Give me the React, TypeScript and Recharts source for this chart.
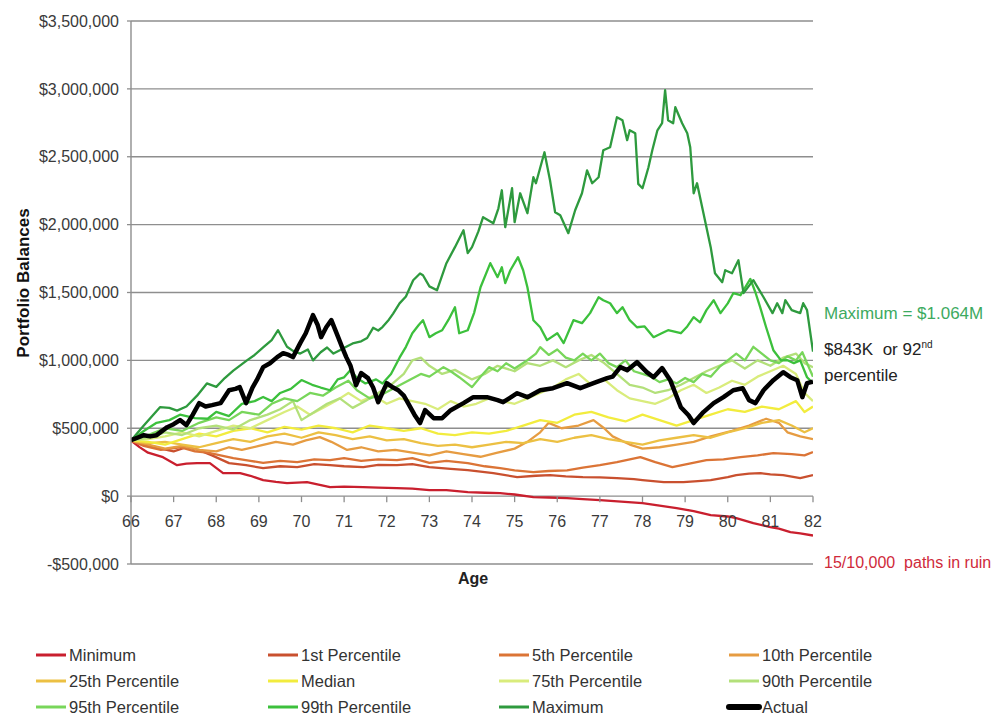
import React from 'react';
import { LineChart, Line, XAxis, YAxis, CartesianGrid } from 'recharts';

// ---------- data (values in $ thousands, [age, value]) ----------
const ageTicks = [66, 67, 68, 69, 70, 71, 72, 73, 74, 75, 76, 77, 78, 79, 80, 81, 82];
const balanceTicks = [-500000, 0, 500000, 1000000, 1500000, 2000000, 2500000, 3000000, 3500000];

const minimum: [number, number][] = [
  [66, 410], [66.2, 361], [66.4, 320], [66.75, 287], [67.08, 228], [67.3, 240], [67.55, 243], [67.85, 243],
  [68.16, 169], [68.56, 169], [68.8, 150], [69.1, 118], [69.4, 105], [69.66, 96], [70.13, 103], [70.4, 85],
  [70.67, 66], [71.0, 70], [71.45, 66], [71.8, 62], [72.24, 59], [72.6, 55], [73.0, 44], [73.4, 44],
  [73.9, 29], [74.3, 25], [74.66, 22], [75.0, 12], [75.44, -7], [75.8, -10], [76.23, -15], [76.6, -22],
  [77.0, -29], [77.5, -40], [78.0, -52], [78.4, -70], [78.8, -88], [79.2, -110], [79.6, -140], [80.0, -150],
  [80.2, -162], [80.6, -199], [81.0, -228], [81.2, -240], [81.47, -265], [81.7, -275], [82.0, -290],
];

const p1: [number, number][] = [
  [66, 410], [66.3, 380], [66.7, 350], [67.0, 330], [67.3, 360], [67.6, 339], [67.9, 300], [68.3, 243],
  [68.7, 228], [69.1, 206], [69.5, 220], [69.9, 214], [70.3, 235], [70.67, 228], [71.0, 220], [71.45, 214],
  [71.8, 230], [72.24, 228], [72.6, 235], [73.0, 214], [73.5, 200], [73.9, 191], [74.5, 169], [75.06, 140],
  [75.5, 150], [75.83, 155], [76.2, 145], [76.6, 140], [77.0, 138], [77.4, 133], [77.8, 125], [78.0, 118],
  [78.5, 103], [78.96, 103], [79.3, 110], [79.6, 118], [80.0, 140], [80.2, 155], [80.5, 165], [80.77, 169],
  [81.0, 160], [81.3, 155], [81.7, 133], [82.0, 155],
];

const p5: [number, number][] = [
  [66, 410], [66.3, 370], [66.7, 340], [67.15, 360], [67.5, 330], [67.8, 320], [68.1, 300], [68.4, 280],
  [68.8, 260], [69.1, 245], [69.5, 260], [69.9, 250], [70.3, 270], [70.67, 265], [71.0, 280], [71.4, 260],
  [71.8, 270], [72.24, 265], [72.6, 280], [73.0, 245], [73.4, 260], [73.9, 243], [74.3, 220], [74.66, 206],
  [75.0, 190], [75.44, 177], [75.8, 185], [76.23, 190], [76.6, 210], [77.0, 228], [77.4, 250], [77.95, 287],
  [78.3, 250], [78.7, 214], [79.1, 240], [79.5, 265], [79.9, 270], [80.3, 287], [80.7, 300], [81.07, 317],
  [81.5, 310], [81.8, 300], [82.0, 324],
];

const p10: [number, number][] = [
  [66, 410], [66.4, 380], [66.8, 350], [67.2, 370], [67.6, 340], [68.0, 330], [68.3, 360], [68.6, 340],
  [69.0, 370], [69.4, 400], [69.8, 380], [70.1, 410], [70.43, 435], [70.7, 400], [71.07, 340], [71.4, 360],
  [71.8, 330], [72.2, 340], [72.6, 320], [73.0, 300], [73.4, 330], [73.8, 310], [74.2, 290], [74.6, 320],
  [75.0, 350], [75.3, 400], [75.6, 470], [75.8, 540], [76.1, 500], [76.5, 520], [76.85, 560], [77.1, 500],
  [77.3, 440], [77.7, 380], [78.0, 350], [78.4, 360], [78.8, 380], [79.2, 400], [79.6, 440], [80.1, 480],
  [80.5, 520], [80.9, 570], [81.2, 540], [81.4, 470], [81.7, 440], [82.0, 420],
];

const p25: [number, number][] = [
  [66, 410], [66.4, 390], [66.8, 400], [67.2, 380], [67.6, 360], [68.0, 390], [68.4, 420], [68.8, 400],
  [69.2, 440], [69.6, 460], [70.0, 430], [70.4, 470], [70.8, 450], [71.2, 420], [71.6, 440], [72.0, 410],
  [72.4, 420], [72.8, 390], [73.2, 370], [73.6, 380], [74.0, 360], [74.4, 380], [74.8, 400], [75.2, 390],
  [75.6, 420], [76.0, 400], [76.4, 430], [76.8, 450], [77.2, 420], [77.6, 400], [78.0, 380], [78.4, 410],
  [78.8, 430], [79.2, 450], [79.6, 430], [80.0, 470], [80.4, 500], [80.8, 540], [81.2, 560], [81.5, 520],
  [81.8, 470], [82.0, 500],
];

const median: [number, number][] = [
  [66, 410], [66.4, 400], [66.8, 380], [67.2, 420], [67.6, 460], [68.0, 440], [68.4, 480], [68.8, 500],
  [69.2, 470], [69.6, 510], [70.0, 490], [70.4, 520], [70.8, 500], [71.2, 470], [71.6, 520], [72.0, 500],
  [72.4, 480], [72.8, 500], [73.2, 460], [73.6, 450], [74.0, 470], [74.4, 460], [74.8, 480], [75.2, 520],
  [75.6, 560], [76.0, 540], [76.4, 600], [76.8, 620], [77.2, 580], [77.6, 550], [78.0, 600], [78.4, 560],
  [78.8, 520], [79.2, 560], [79.6, 600], [80.0, 640], [80.4, 620], [80.8, 660], [81.2, 640], [81.6, 700],
  [81.8, 620], [82.0, 660],
];

const p75: [number, number][] = [
  [66, 410], [66.4, 420], [66.8, 440], [67.2, 470], [67.6, 440], [68.0, 480], [68.4, 520], [68.8, 500],
  [69.2, 560], [69.6, 620], [69.9, 660], [70.2, 600], [70.5, 650], [70.8, 700], [71.1, 760], [71.4, 700],
  [71.7, 740], [72.0, 680], [72.3, 720], [72.6, 700], [72.9, 680], [73.2, 640], [73.5, 700], [73.8, 660],
  [74.1, 680], [74.4, 720], [74.7, 700], [75.0, 680], [75.3, 720], [75.6, 760], [75.9, 800], [76.2, 860],
  [76.5, 900], [76.8, 820], [77.1, 860], [77.4, 780], [77.7, 720], [78.0, 700], [78.3, 680], [78.6, 720],
  [78.9, 780], [79.2, 820], [79.5, 760], [79.8, 800], [80.1, 850], [80.4, 820], [80.7, 880], [81.0, 920],
  [81.3, 960], [81.6, 900], [81.8, 760], [82.0, 700],
];

const p90: [number, number][] = [
  [66, 410], [66.4, 430], [66.8, 470], [67.2, 450], [67.6, 500], [68.0, 520], [68.4, 490], [68.8, 560],
  [69.2, 600], [69.5, 640], [69.8, 700], [70.0, 560], [70.3, 620], [70.6, 680], [70.9, 720], [71.2, 650],
  [71.5, 700], [71.8, 760], [72.1, 820], [72.4, 900], [72.6, 1000], [72.8, 1020], [73.0, 960], [73.3, 900],
  [73.6, 930], [74.0, 860], [74.3, 900], [74.6, 960], [75.0, 920], [75.3, 980], [75.6, 960], [75.9, 1000],
  [76.2, 950], [76.5, 1000], [76.8, 1040], [77.1, 980], [77.4, 900], [77.7, 820], [78.0, 800], [78.3, 760],
  [78.6, 780], [78.9, 820], [79.2, 870], [79.5, 920], [79.8, 960], [80.1, 1000], [80.4, 940], [80.7, 1000],
  [81.0, 960], [81.3, 1020], [81.6, 1050], [81.8, 980], [82.0, 950],
];

const p95: [number, number][] = [
  [66, 410], [66.4, 450], [66.8, 500], [67.2, 480], [67.6, 540], [68.0, 580], [68.3, 560], [68.6, 620],
  [69.0, 600], [69.3, 680], [69.6, 720], [69.9, 700], [70.2, 760], [70.5, 740], [70.8, 800], [71.1, 850],
  [71.3, 780], [71.6, 720], [71.9, 750], [72.2, 800], [72.5, 850], [72.8, 900], [73.0, 880], [73.33, 950],
  [73.5, 920], [73.7, 876], [74.0, 803], [74.2, 880], [74.4, 950], [74.6, 920], [74.8, 979], [75.0, 940],
  [75.3, 1001], [75.5, 1050], [75.6, 1097], [75.8, 1040], [76.0, 1080], [76.2, 1020], [76.4, 1000], [76.6, 1050],
  [76.8, 1000], [77.0, 1050], [77.2, 980], [77.4, 950], [77.6, 1000], [77.8, 920], [78.0, 900], [78.2, 880],
  [78.4, 840], [78.6, 860], [78.8, 830], [79.0, 870], [79.2, 840], [79.4, 900], [79.6, 880], [79.8, 950],
  [80.0, 1000], [80.2, 1050], [80.4, 1000], [80.6, 1100], [80.8, 1050], [81.0, 1000], [81.2, 980], [81.4, 1030],
  [81.6, 1000], [81.75, 1060], [81.9, 950], [82.0, 880],
];

const p99: [number, number][] = [
  [66, 410], [66.3, 480], [66.6, 540], [66.9, 560], [67.15, 600], [67.5, 575], [67.8, 570], [68.0, 620],
  [68.3, 590], [68.6, 680], [68.9, 700], [69.1, 730], [69.3, 700], [69.5, 760], [69.75, 790], [70.0, 855],
  [70.25, 820], [70.45, 800], [70.67, 780], [70.85, 860], [71.0, 875], [71.15, 930], [71.3, 870], [71.5, 830],
  [71.75, 860], [71.9, 830], [72.1, 900], [72.3, 1020], [72.45, 1100], [72.6, 1200], [72.75, 1260], [72.85, 1296],
  [73.0, 1171], [73.15, 1200], [73.3, 1222], [73.45, 1300], [73.6, 1392], [73.7, 1200], [73.9, 1222], [74.05, 1350],
  [74.2, 1539], [74.43, 1716], [74.6, 1613], [74.7, 1686], [74.78, 1569], [74.9, 1664], [75.08, 1760], [75.2, 1664],
  [75.3, 1539], [75.44, 1296], [75.6, 1244], [75.76, 1149], [76.0, 1200], [76.15, 1127], [76.38, 1296], [76.58, 1274],
  [76.77, 1348], [76.97, 1465], [77.08, 1443], [77.24, 1421], [77.4, 1348], [77.53, 1392], [77.7, 1296], [77.87, 1244],
  [78.05, 1250], [78.26, 1171], [78.45, 1200], [78.6, 1222], [78.9, 1200], [79.05, 1250], [79.2, 1318], [79.35, 1280],
  [79.5, 1370], [79.67, 1443], [79.83, 1348], [80.0, 1420], [80.13, 1495], [80.3, 1480], [80.53, 1600], [80.65, 1500],
  [80.76, 1392], [80.9, 1244], [81.07, 1075], [81.25, 1000], [81.4, 1001], [81.55, 980], [81.7, 1000], [81.86, 876],
  [82.0, 832],
];

const maximum: [number, number][] = [
  [66, 410], [66.3, 520], [66.68, 655], [66.9, 650], [67.08, 630], [67.3, 660], [67.55, 740], [67.78, 830],
  [68.0, 805], [68.2, 870], [68.4, 925], [68.72, 1000], [68.9, 1040], [69.1, 1095], [69.3, 1150], [69.45, 1222],
  [69.66, 1100], [69.8, 1070], [69.97, 1050], [70.15, 1080], [70.27, 1000], [70.45, 1060], [70.6, 1095], [70.75, 1050],
  [70.9, 1075], [71.05, 1100], [71.2, 1125], [71.4, 1140], [71.54, 1165], [71.68, 1240], [71.8, 1220], [71.9, 1245],
  [72.05, 1300], [72.15, 1345], [72.3, 1420], [72.45, 1470], [72.62, 1590], [72.78, 1640], [72.85, 1627], [73.0, 1545],
  [73.18, 1517], [73.4, 1716], [73.6, 1834], [73.8, 1959], [73.9, 1790], [74.0, 1834], [74.15, 1950], [74.26, 2055],
  [74.5, 2010], [74.62, 2120], [74.7, 2253], [74.78, 1981], [74.94, 2268], [75.0, 2018], [75.13, 2231], [75.3, 2084],
  [75.44, 2349], [75.5, 2305], [75.7, 2533], [75.83, 2327], [75.95, 2091], [76.07, 2069], [76.26, 1937], [76.42, 2106],
  [76.58, 2231], [76.7, 2400], [76.82, 2305], [76.97, 2349], [77.08, 2548], [77.24, 2570], [77.4, 2791], [77.53, 2769],
  [77.64, 2622], [77.7, 2695], [77.83, 2673], [77.9, 2300], [78.0, 2268], [78.14, 2423], [78.23, 2548], [78.35, 2695],
  [78.46, 2747], [78.53, 2990], [78.6, 2769], [78.72, 2747], [78.77, 2865], [78.93, 2747], [79.05, 2673], [79.12, 2570],
  [79.2, 2231], [79.28, 2305], [79.43, 2084], [79.6, 1834], [79.7, 1642], [79.87, 1576], [79.94, 1664], [80.1, 1642],
  [80.25, 1738], [80.37, 1495], [80.6, 1591], [80.84, 1465], [81.05, 1348], [81.16, 1421], [81.28, 1348], [81.35, 1443],
  [81.5, 1370], [81.7, 1348], [81.77, 1421], [81.86, 1370], [82.0, 1064],
];

const actual: [number, number][] = [
  [66.0, 412], [66.15, 430], [66.3, 449], [66.45, 440], [66.6, 449], [66.85, 508], [67.0, 530], [67.15, 560],
  [67.3, 523], [67.45, 600], [67.6, 685], [67.75, 660], [67.9, 670], [68.1, 685], [68.3, 780], [68.45, 790],
  [68.55, 803], [68.7, 685], [68.85, 800], [68.95, 854], [69.1, 950], [69.26, 979], [69.43, 1024], [69.57, 1053],
  [69.7, 1040], [69.8, 1024], [69.97, 1127], [70.1, 1200], [70.27, 1333], [70.38, 1260], [70.46, 1171], [70.58, 1244],
  [70.7, 1296], [70.86, 1171], [70.95, 1100], [71.05, 1024], [71.15, 960], [71.28, 817], [71.4, 906], [71.56, 869],
  [71.68, 800], [71.8, 692], [72.0, 832], [72.15, 800], [72.27, 780], [72.4, 740], [72.5, 685], [72.65, 600],
  [72.78, 538], [72.9, 633], [73.1, 574], [73.3, 574], [73.5, 633], [73.8, 685], [74.03, 729], [74.35, 729],
  [74.6, 707], [74.73, 692], [75.06, 758], [75.3, 729], [75.6, 780], [75.9, 795], [76.23, 832], [76.54, 795],
  [76.85, 832], [77.17, 869], [77.3, 880], [77.48, 950], [77.64, 928], [77.87, 987], [78.1, 913], [78.26, 876],
  [78.46, 943], [78.65, 854], [78.9, 655], [79.08, 596], [79.2, 538], [79.43, 619], [79.67, 685], [79.9, 729],
  [80.13, 780], [80.35, 795], [80.5, 707], [80.65, 685], [80.84, 780], [81.07, 854], [81.3, 913], [81.47, 876],
  [81.63, 854], [81.75, 729], [81.86, 832], [82.0, 843],
];

const seriesNames = [
  'Minimum', '1st Percentile', '5th Percentile', '10th Percentile',
  '25th Percentile', 'Median', '75th Percentile', '90th Percentile',
  '95th Percentile', '99th Percentile', 'Maximum', 'Actual',
];
const seriesData = [minimum, p1, p5, p10, p25, median, p75, p90, p95, p99, maximum, actual];

// ---------- styles ----------
const colors = [
  '#c91f2e', '#c9502f', '#db7436', '#e69c42',
  '#ecc043', '#f2ec3e', '#d9ec7c', '#b3e07a',
  '#78d65a', '#3cc03c', '#2e9a3e', '#000000',
];
const FONT = '"Liberation Sans", Arial, Helvetica, sans-serif';
const W = 991;
const H = 714;
const PLOT_TOP = 13;
const PLOT_LEFT = 123;
const PLOT_W = 682;
const PLOT_H = 543;
const X_AXIS_H = 30;
const Y_MIN = -500000;
const Y_MAX = 3500000;
const ZERO_Y = PLOT_TOP + (PLOT_H * Y_MAX) / (Y_MAX - Y_MIN);
const GRID = '#8e8e8e';

const toPts = (s: [number, number][]) => s.map(([age, k]) => ({ age, v: k * 1000 }));

const fmtMoney = (v: number) =>
  (v < 0 ? '-$' : '$') + Math.abs(v).toLocaleString('en-US');

function XTick(props: any) {
  const { x, payload } = props;
  return (
    <g>
      <line x1={x} x2={x} y1={ZERO_Y} y2={ZERO_Y + 6} stroke={GRID} strokeWidth={1.3} />
      <text x={x} y={ZERO_Y + 31} textAnchor="middle" fontSize={16} fontFamily={FONT} fill="#3a3a3a">
        {payload.value}
      </text>
    </g>
  );
}

const legendCols = [28, 260, 491, 721];
const legendRows = [647, 673, 699];

export default function App() {
  return (
    <div style={{ position: 'relative', width: W, height: H, background: '#fff' }}>
      <LineChart
        width={W}
        height={H}
        margin={{ top: PLOT_TOP, right: W - PLOT_LEFT - PLOT_W, left: 0, bottom: H - PLOT_TOP - PLOT_H - X_AXIS_H }}
      >
        <CartesianGrid vertical={false} stroke={GRID} strokeWidth={1.4} />
        <XAxis
          type="number"
          dataKey="age"
          domain={[66, 82]}
          ticks={ageTicks}
          interval={0}
          axisLine={false}
          tickLine={false}
          height={X_AXIS_H}
          tick={<XTick />}
          allowDataOverflow
        />
        <YAxis
          type="number"
          dataKey="v"
          domain={[Y_MIN, Y_MAX]}
          ticks={balanceTicks}
          interval={0}
          width={PLOT_LEFT}
          tickFormatter={fmtMoney}
          axisLine={{ stroke: GRID, strokeWidth: 1.4 }}
          tickLine={{ stroke: GRID, strokeWidth: 1.3 }}
          tickSize={4}
          tickMargin={8}
          tick={{ fontSize: 16, fontFamily: FONT, fill: '#3a3a3a' }}
          allowDataOverflow
        />
        {seriesData.map((s, i) => (
          <Line
            key={seriesNames[i]}
            data={toPts(s)}
            dataKey="v"
            name={seriesNames[i]}
            type="linear"
            stroke={colors[i]}
            strokeWidth={i === 11 ? 4.5 : 2.3}
            strokeLinejoin="round"
            dot={false}
            activeDot={false}
            isAnimationActive={false}
          />
        ))}
      </LineChart>
      <svg
        width={W + 8}
        height={H}
        style={{ position: 'absolute', left: 0, top: 0, pointerEvents: 'none', overflow: 'visible' }}
        fontFamily={FONT}
      >
        <text
          x={0}
          y={0}
          transform="translate(15,275) rotate(-90)"
          textAnchor="middle"
          dominantBaseline="central"
          fontSize={17}
          fontWeight="bold"
          fill="#111"
        >
          Portfolio Balances
        </text>
        <text x={465} y={576} textAnchor="middle" fontSize={16} fontWeight="bold" fill="#222">
          Age
        </text>
        <text x={816} y={311} fontSize={17} fill="#3daa5f">
          Maximum = $1.064M
        </text>
        <text x={816} y={347} fontSize={17} fill="#222">
          $843K{'\u00a0'} or 92<tspan fontSize={10} dy={-7}>nd</tspan>
        </text>
        <text x={816} y={373} fontSize={17} fill="#222">
          percentile
        </text>
        <text x={816} y={560} fontSize={16} fill="#cf2a3a">
          15/10,000{'\u00a0'} paths in ruin
        </text>
        {seriesNames.map((n, i) => {
          const cx = legendCols[i % 4];
          const cy = legendRows[Math.floor(i / 4)];
          return (
            <g key={n}>
              <line
                x1={cx}
                x2={cx + 30}
                y1={cy}
                y2={cy}
                stroke={colors[i]}
                strokeWidth={i === 11 ? 6 : 3}
                strokeLinecap={i === 11 ? 'round' : 'butt'}
              />
              <text x={cx + 33} y={cy + 6} fontSize={16.5} fill="#333">
                {n}
              </text>
            </g>
          );
        })}
      </svg>
    </div>
  );
}
